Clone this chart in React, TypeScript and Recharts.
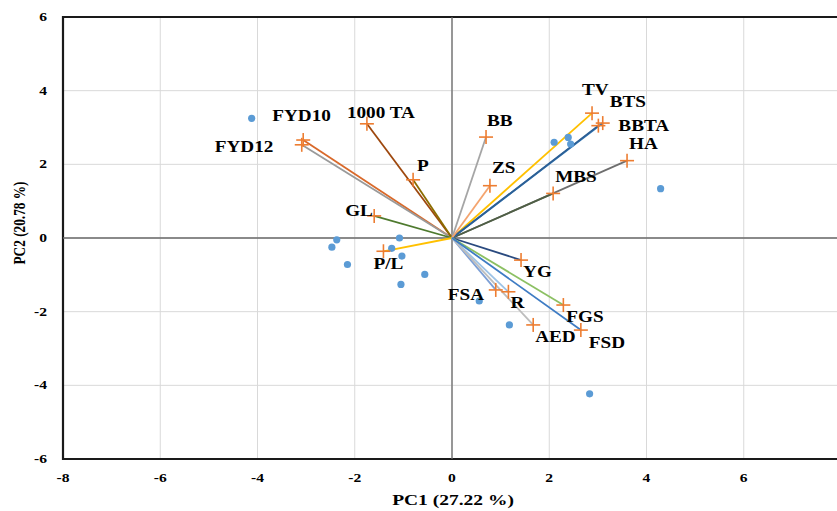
import React from 'react';
import {
  ScatterChart,
  Scatter,
  XAxis,
  YAxis,
  CartesianGrid,
  ReferenceLine,
  ReferenceArea,
} from 'recharts';

// ---------- data ----------
const xTicks = [-8, -6, -4, -2, 0, 2, 4, 6, 8];
const yTicks = [-6, -4, -2, 0, 2, 4, 6];

const xTitle = 'PC1 (27.22 %)';
const yTitle = 'PC2 (20.78 %)';

// observations (blue dots)
const obsPC1 = [-4.12, -2.37, -2.47, -2.15, -1.08, -1.24, -1.03, -1.05, -0.56, 0.56, 1.18, 2.1, 2.39, 2.44, 4.29, 2.83];
const obsPC2 = [3.25, -0.05, -0.25, -0.72, 0.0, -0.28, -0.49, -1.26, -0.99, -1.71, -2.36, 2.6, 2.73, 2.55, 1.34, -4.23];

// variables (orange crosses + vectors)
const varNames = ['FYD10', 'FYD12', '1000 TA', 'P', 'GL', 'P/L', 'HA', 'MBS', 'TV', 'BTS', 'BBTA', 'BB', 'ZS', 'YG', 'FSA', 'R', 'FGS', 'AED', 'FSD'];
const varPC1 = [-3.06, -3.09, -1.75, -0.8, -1.6, -1.41, 3.6, 2.08, 2.88, 3.1, 3.01, 0.7, 0.78, 1.42, 0.9, 1.16, 2.29, 1.67, 2.65];
const varPC2 = [2.66, 2.53, 3.1, 1.58, 0.6, -0.36, 2.1, 1.21, 3.39, 3.12, 3.05, 2.74, 1.42, -0.6, -1.41, -1.46, -1.82, -2.36, -2.5];

// ---------- styles ----------
const vectorColors: Record<string, string> = {
  FYD10: '#D9692A',
  FYD12: '#9A9A9A',
  '1000 TA': '#9E480E',
  P: '#8C6D00',
  GL: '#4E7A2E',
  'P/L': '#FFC000',
  HA: '#6E6E6E',
  MBS: '#4F5F45',
  TV: '#FFC000',
  BTS: '#2E75B6',
  BBTA: '#2D5F94',
  BB: '#A5A5A5',
  ZS: '#F4A46E',
  YG: '#2A4A7F',
  FSA: '#7C9FD6',
  R: '#9DC3E6',
  FGS: '#8CC063',
  AED: '#BDBDBD',
  FSD: '#3E7CC4',
};

// label placement relative to the cross centre (px): left edge dx, vertical centre dy
const labelOffsets: Record<string, [number, number]> = {
  FYD10: [-31, -25],
  FYD12: [-87, 2],
  '1000 TA': [-20, -11],
  P: [4, -14],
  GL: [-29, -5],
  'P/L': [-10, 12],
  HA: [2, -17],
  MBS: [2, -17],
  TV: [-10, -24],
  BTS: [7, -22],
  BBTA: [20, 0],
  BB: [1, -17],
  ZS: [2, -18],
  YG: [2, 11],
  FSA: [-48, 5],
  R: [2, 11],
  FGS: [3, 11],
  AED: [2, 12],
  FSD: [8, 12],
};

const FONT = '"Liberation Serif", "Times New Roman", serif';

const obsData = obsPC1.map((x, i) => ({ x, y: obsPC2[i] }));
const varData = varNames.map((name, i) => ({ name, x: varPC1[i], y: varPC2[i] }));

function SText(props: {
  x: number;
  y: number;
  sx: number;
  size: number;
  anchor: 'start' | 'middle' | 'end';
  rotate?: number;
  children: React.ReactNode;
}) {
  const { x, y, sx, size, anchor, rotate, children } = props;
  const tr = `translate(${x},${y}) scale(${sx},1)` + (rotate ? ` rotate(${rotate})` : '');
  return (
    <g transform={tr}>
      <text x={0} y={0} textAnchor={anchor} fontFamily={FONT} fontWeight="bold" fontSize={size} fill="#000">
        {children}
      </text>
    </g>
  );
}

const XTick = (p: any) => (
  <SText x={p.x} y={p.y + 23} sx={1.3} size={12} anchor="middle">
    {p.payload.value}
  </SText>
);

const YTick = (p: any) => (
  <SText x={p.x - 16} y={p.y + 4} sx={1.3} size={12} anchor="end">
    {p.payload.value}
  </SText>
);

const DotShape = (p: any) => <circle cx={p.cx} cy={p.cy} r={3.6} fill="#5B9BD5" />;

const CrossShape = (p: any) => {
  const { cx, cy, payload } = p;
  const off = labelOffsets[payload.name] || [4, -12];
  return (
    <g>
      <line x1={cx - 7} y1={cy} x2={cx + 7} y2={cy} stroke="#ED7D31" strokeWidth={1.6} />
      <line x1={cx} y1={cy - 7} x2={cx} y2={cy + 7} stroke="#ED7D31" strokeWidth={1.6} />
      <SText x={cx + off[0]} y={cy + off[1] + 5.5} sx={1.2} size={16} anchor="start">
        {payload.name}
      </SText>
    </g>
  );
};

const XTitle = (p: any) => {
  const vb = p.viewBox || { x: 63, y: 459, width: 778 };
  return (
    <SText x={453} y={505} sx={1.3} size={15} anchor="middle">
      {xTitle}
    </SText>
  );
};

const YTitle = () => (
  <SText x={25} y={223} sx={1.3} size={13.3} anchor="middle" rotate={-90}>
    {yTitle}
  </SText>
);

export default function App() {
  return (
    <div style={{ position: 'absolute', left: 0, top: 0, width: 837, height: 511, overflow: 'hidden', background: '#fff' }}>
      <ScatterChart width={850} height={511} margin={{ top: 17, right: 9, bottom: 22, left: 23 }}>
        <CartesianGrid stroke="#D9D9D9" strokeWidth={1} />
        <XAxis
          type="number"
          dataKey="x"
          domain={[-8, 8]}
          ticks={xTicks}
          allowDataOverflow
          axisLine={false}
          tickLine={false}
          tickSize={0}
          tickMargin={0}
          height={30}
          tick={XTick}
          label={XTitle}
          interval={0}
        />
        <YAxis
          type="number"
          dataKey="y"
          domain={[-6, 6]}
          ticks={yTicks}
          allowDataOverflow
          axisLine={false}
          tickLine={false}
          tickSize={0}
          tickMargin={0}
          width={40}
          tick={YTick}
          label={YTitle}
          interval={0}
        />
        <ReferenceLine x={0} stroke="#6A6A6A" strokeWidth={1.3} />
        <ReferenceLine y={0} stroke="#6A6A6A" strokeWidth={1.3} />
        <ReferenceArea x1={-8} x2={8} y1={-6} y2={6} fill="none" stroke="#1A1A1A" strokeWidth={2.2} ifOverflow="visible" />
        {varNames.map((name, i) => (
          <ReferenceLine
            key={name}
            segment={[
              { x: 0, y: 0 },
              { x: varPC1[i], y: varPC2[i] },
            ]}
            stroke={vectorColors[name]}
            strokeWidth={1.8}
            ifOverflow="visible"
          />
        ))}
        <Scatter data={obsData} shape={DotShape} isAnimationActive={false} />
        <Scatter data={varData} shape={CrossShape} isAnimationActive={false} />
      </ScatterChart>
    </div>
  );
}
